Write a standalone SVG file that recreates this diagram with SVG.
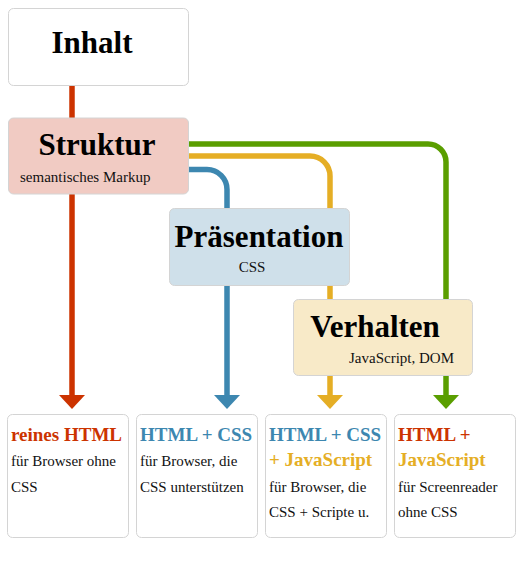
<svg xmlns="http://www.w3.org/2000/svg" width="518" height="583" viewBox="0 0 518 583">
<style>
.box{stroke:#d4d4d4;stroke-width:1}
.h{font-family:"Liberation Serif",serif;font-weight:bold;font-size:31px;fill:#000}
.s{font-family:"Liberation Serif",serif;font-size:15px;fill:#111}
.t{font-family:"Liberation Serif",serif;font-weight:bold;font-size:19px}
.b{font-family:"Liberation Serif",serif;font-size:15px;fill:#111}
.ln{fill:none;stroke-width:5.5}
.red{fill:#cc3300}.blue{fill:#3d87b0}.yel{fill:#e5ae25}.grn{fill:#5a9e00}
</style>
<rect width="518" height="583" fill="#fff"/>
<g id="connectors">
<path class="ln" stroke="#5a9e00" d="M188,144 H428 A18,18 0 0 1 446,162 V396"/>
<path class="ln" stroke="#e5ae25" d="M188,156 H310 A20,20 0 0 1 330,176 V396"/>
<path class="ln" stroke="#3d87b0" d="M188,169.5 H207 A20,20 0 0 1 227,189.5 V396"/>
<path class="ln" stroke="#cc3300" d="M72,85 V396"/>
<polygon class="red" points="59,395 85,395 72,409"/>
<polygon class="blue" points="214,395 240,395 227,409"/>
<polygon class="yel" points="317,395 343,395 330,409"/>
<polygon class="grn" points="433,395 459,395 446,409"/>
</g>
<g id="inhalt">
<rect class="box" x="8.5" y="8.5" width="180" height="77" rx="5" fill="#fff"/>
<text class="h" x="92" y="53" text-anchor="middle">Inhalt</text>
</g>
<g id="struktur">
<rect class="box" x="8.5" y="118" width="180" height="76" rx="5" fill="#f1cbc3"/>
<text class="h" x="97" y="155" text-anchor="middle">Struktur</text>
<text class="s" x="20" y="182">semantisches Markup</text>
</g>
<g id="praesentation">
<rect class="box" x="169.5" y="208.5" width="180" height="77" rx="5" fill="#cfe0ea"/>
<text class="h" x="259" y="247" text-anchor="middle">Präsentation</text>
<text class="s" x="252" y="272" text-anchor="middle">CSS</text>
</g>
<g id="verhalten">
<rect class="box" x="293.5" y="299.5" width="179" height="76" rx="5" fill="#f8eac8"/>
<text class="h" x="375" y="337" text-anchor="middle">Verhalten</text>
<text class="s" x="349" y="363">JavaScript, DOM</text>
</g>
<g id="html">
<rect class="box" x="7.5" y="414.5" width="121" height="123" rx="5" fill="#fff"/>
<text class="t red" x="11" y="441">reines HTML</text>
<text class="b" x="11" y="466">für Browser ohne</text>
<text class="b" x="11" y="492">CSS</text>
</g>
<g id="html-css">
<rect class="box" x="136.5" y="414.5" width="121" height="123" rx="5" fill="#fff"/>
<text class="t blue" x="140" y="441">HTML + CSS</text>
<text class="b" x="140" y="466">für Browser, die</text>
<text class="b" x="140" y="492">CSS unterstützen</text>
</g>
<g id="html-css-js">
<rect class="box" x="265.5" y="414.5" width="121" height="123" rx="5" fill="#fff"/>
<text class="t blue" x="269" y="441">HTML + CSS</text>
<text class="t yel" x="269" y="466">+ JavaScript</text>
<text class="b" x="269" y="492">für Browser, die</text>
<text class="b" x="269" y="517">CSS + Scripte u.</text>
</g>
<g id="html-js">
<rect class="box" x="394.5" y="414.5" width="121" height="123" rx="5" fill="#fff"/>
<text class="t red" x="398" y="441">HTML +</text>
<text class="t yel" x="398" y="466">JavaScript</text>
<text class="b" x="398" y="492">für Screenreader</text>
<text class="b" x="398" y="517">ohne CSS</text>
</g>
</svg>
